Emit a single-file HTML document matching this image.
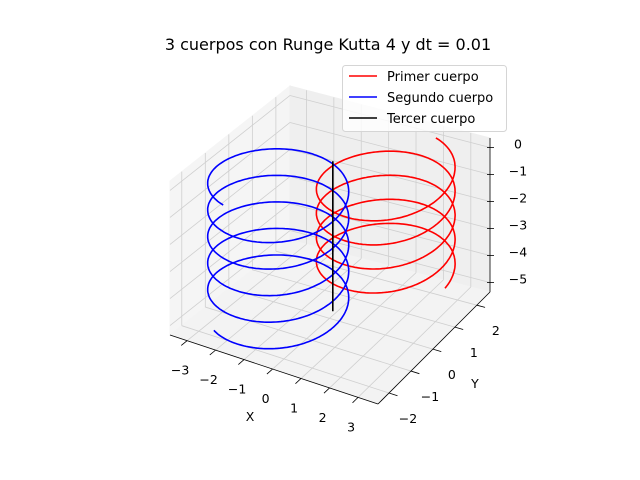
<!DOCTYPE html>
<html><head><meta charset="utf-8"><style>
body{margin:0;background:#fff}
svg{display:block;font-family:"DejaVu Sans","Liberation Sans",sans-serif}
</style></head><body>
<svg id="c" width="640" height="480" xmlns="http://www.w3.org/2000/svg">
<text x="328" y="50" text-anchor="middle" font-size="16">3 cuerpos con Runge Kutta 4 y dt = 0.01</text>
<g id="panes"></g>
<g id="grid"></g>
<g id="axes"></g>
<g id="series"></g>
<g>
<rect x="342.5" y="65.5" width="164" height="66" rx="3" fill="#fff" fill-opacity="0.8" stroke="#d5d5d5"/>
<line x1="349" y1="76" x2="377" y2="76" stroke="#ff0000" stroke-width="1.5"/>
<text x="387" y="81" font-size="13">Primer cuerpo</text>
<line x1="349" y1="97" x2="377" y2="97" stroke="#0000ff" stroke-width="1.5"/>
<text x="387" y="102" font-size="13">Segundo cuerpo</text>
<line x1="349" y1="118" x2="377" y2="118" stroke="#000" stroke-width="1.5"/>
<text x="387" y="123" font-size="13">Tercer cuerpo</text>
</g>
</svg>
<script>
const xTicks=[-3,-2,-1,0,1,2,3];
const yTicks=[-2,-1,0,1,2];
const zTicks=[0,-1,-2,-3,-4,-5];
const xLim=[-3.6,3.7], yLim=[-2.5,2.6], zLim=[-5.35,0.35];
// orbit parameters (data units)
const redCenter=[1.22,1.0], blueCenter=[-1.0,-1.0], blackCenter=[0.12,0];
const orbitAxisA=[1.77,0.90], orbitAxisB=[1.20,-1.49];
const startAngle=[-44,141];
const turns=[4.21,5.04];
const redZRange=[-0.25,-4.0];
const blueZRange=[0.25,-4.7];
const blackZRange=[0.5,-5.05];

const NS="http://www.w3.org/2000/svg";
const C00=[170,335], C10=[378,404], C11=[490,292], C01=[290,240], ZH=154;
function P(x,y,z){
  const a=(x-xLim[0])/(xLim[1]-xLim[0]), b=(y-yLim[0])/(yLim[1]-yLim[0]), c=(z-zLim[0])/(zLim[1]-zLim[0]);
  const px=(1-a)*(1-b)*C00[0]+a*(1-b)*C10[0]+a*b*C11[0]+(1-a)*b*C01[0];
  const py=(1-a)*(1-b)*C00[1]+a*(1-b)*C10[1]+a*b*C11[1]+(1-a)*b*C01[1];
  return [px,py-c*ZH];
}
function el(tag,attrs,parent){const e=document.createElementNS(NS,tag);for(const k in attrs)e.setAttribute(k,attrs[k]);parent.appendChild(e);return e;}
function poly(pts){return pts.map(p=>p[0].toFixed(1)+","+p[1].toFixed(1)).join(" ");}
const [x0,x1]=xLim,[y0,y1]=yLim,[z0,z1]=zLim;
const panes=document.getElementById('panes');
let e;
e=el('polygon',{points:poly([P(x0,y0,z0),P(x0,y1,z0),P(x0,y1,z1),P(x0,y0,z1)]),fill:'#f5f5f5',stroke:'#f5f5f5'},panes);


e=el('polygon',{points:poly([P(x0,y1,z0),P(x1,y1,z0),P(x1,y1,z1),P(x0,y1,z1)]),fill:'#efefef',stroke:'#efefef'},panes);


e=el('polygon',{points:poly([P(x0,y0,z0),P(x1,y0,z0),P(x1,y1,z0),P(x0,y1,z0)]),fill:'#f3f3f3',stroke:'#f3f3f3'},panes);


const grid=document.getElementById('grid');
function gl(a,b,name){const l=el('line',{x1:a[0],y1:a[1],x2:b[0],y2:b[1],stroke:'#cfcfcf','stroke-width':0.8},grid);}
xTicks.forEach(t=>{gl(P(t,y0,z0),P(t,y1,z0),'grid-x');gl(P(t,y1,z0),P(t,y1,z1),'grid-x');});
yTicks.forEach(t=>{gl(P(x0,t,z0),P(x1,t,z0),'grid-y');gl(P(x0,t,z0),P(x0,t,z1),'grid-y');});
zTicks.forEach(t=>{gl(P(x0,y0,t),P(x0,y1,t),'grid-z');gl(P(x0,y1,t),P(x1,y1,t),'grid-z');});
const axes=document.getElementById('axes');
function al(a,b,name){const l=el('line',{x1:a[0],y1:a[1],x2:b[0],y2:b[1],stroke:'#000','stroke-width':0.8},axes);}
function tx(p,s,name,anchor){const t=el('text',{x:p[0],y:p[1],'font-size':12.5,'text-anchor':anchor||'middle'},axes);t.textContent=s;}
function fmt(v){return v<0?'\u2212'+Math.abs(v):String(v);}
al(P(x0,y0,z0),P(x1,y0,z0),'x-axis-line');
al(P(x1,y0,z0),P(x1,y1,z0),'y-axis-line');
al(P(x1,y1,z0),P(x1,y1,z1),'z-axis-line');
xTicks.forEach(t=>{const p=P(t,y0,z0),q=P(t,y0-0.25,z0);al(p,q,'x-tick');tx([p[0]-7,p[1]+34],fmt(t),'x-tick-label');});
yTicks.forEach(t=>{const p=P(x1,t,z0),q=P(x1+0.3,t,z0);al(p,q,'y-tick');tx([p[0]+19,p[1]+30],fmt(t),'y-tick-label');});
zTicks.forEach(t=>{const p=P(x1,y1,t);al([p[0]-3,p[1]],[p[0]+4,p[1]],'z-tick');tx([p[0]+28,p[1]+1],fmt(t),'z-tick-label');});
tx([250,421],'X','x-axis-title');tx([475,388],'Y','y-axis-title');
const series=document.getElementById('series');
function helix(c,a0,tr,zr,col,name){
  const pts=[];const N=900;
  for(let i=0;i<=N;i++){const f=i/N;const th=(a0+tr*360*f)*Math.PI/180;const z=zr[0]+(zr[1]-zr[0])*f;
    const co=Math.cos(th), si=Math.sin(th);
    pts.push(P(c[0]+orbitAxisA[0]*co+orbitAxisB[0]*si, c[1]+orbitAxisA[1]*co+orbitAxisB[1]*si, z));}
  const pl=el('polyline',{points:poly(pts),fill:'none',stroke:col,'stroke-width':1.6},series);
  
  
}
helix(redCenter,startAngle[0],turns[0],redZRange,'#ff0000','series-primer-cuerpo');
helix(blueCenter,startAngle[1],turns[1],blueZRange,'#0000ff','series-segundo-cuerpo');
const bl=el('polyline',{points:poly([P(blackCenter[0],blackCenter[1],blackZRange[0]),P(blackCenter[0],blackCenter[1],blackZRange[1])]),fill:'none',stroke:'#000','stroke-width':1.6},series);


</script>
</body></html>
